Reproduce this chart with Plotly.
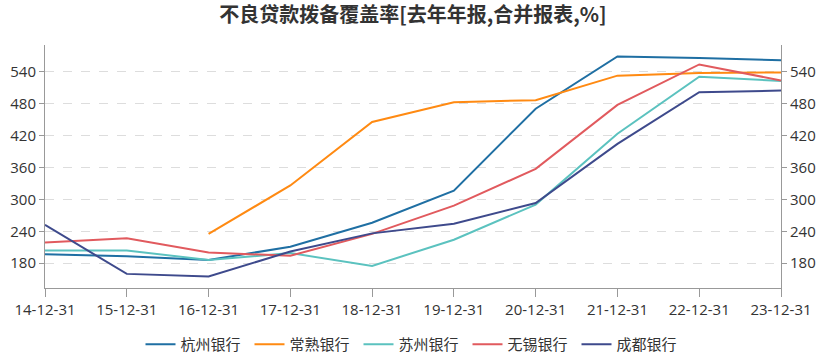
import plotly.graph_objects as go

categories = ["14-12-31", "15-12-31", "16-12-31", "17-12-31", "18-12-31",
              "19-12-31", "20-12-31", "21-12-31", "22-12-31", "23-12-31"]

hangzhou = [197, 193, 186, 211, 256, 316, 470, 568, 565, 561]
changshu = [None, None, 235, 326, 445, 482, 486, 532, 537, 538]
suzhou = [204, 204, 186, 199, 175, 224, 290, 423, 530, 522]
wuxi = [219, 227, 200, 194, 235, 288, 357, 477, 553, 523]
chengdu = [252, 160, 155, 202, 236, 254, 293, 404, 501, 504]

series_names = ["杭州银行", "常熟银行", "苏州银行", "无锡银行", "成都银行"]
series_values = [hangzhou, changshu, suzhou, wuxi, chengdu]
colors = ["#1f6fa3", "#ff8a12", "#5bc2bf", "#e15a5e", "#3e4a8c"]

y_ticks = [180, 240, 300, 360, 420, 480, 540]
y_range = [133.5, 589.5]

font_main = "Noto Sans CJK SC"
font_ticks = "Open Sans"

fig = go.Figure()
for name, vals, col in zip(series_names, series_values, colors):
    fig.add_trace(go.Scatter(
        x=categories, y=vals, name=name, mode="lines",
        line=dict(color=col, width=2),
        connectgaps=False,
    ))

# invisible trace to anchor the right axis
fig.add_trace(go.Scatter(x=categories, y=hangzhou, yaxis="y2", mode="lines",
                         line=dict(width=0), showlegend=False, hoverinfo="skip",
                         opacity=0))

axis_common = dict(
    range=y_range, tickmode="array", tickvals=y_ticks,
    ticks="outside", ticklen=5, tickcolor="#999999",
    showline=True, linecolor="#999999", linewidth=1,
    tickfont=dict(family=font_ticks, size=15, color="#333333"),
    zeroline=False,
)

fig.update_layout(
    width=830, height=357,
    margin=dict(l=45, r=49, t=45, b=69, autoexpand=False),
    paper_bgcolor="white", plot_bgcolor="white",
    title=dict(text="<b>不良贷款拨备覆盖率[去年年报,合并报表,%]</b>",
               x=0.5, xanchor="center", xref="paper",
               y=0.958, yanchor="middle", yref="container",
               font=dict(family=font_main, size=20, color="#333333")),
    xaxis=dict(
        type="category", range=[0, 9],
        showline=True, linecolor="#999999", linewidth=1,
        ticks="outside", ticklen=8, tickcolor="#999999",
        showgrid=False, zeroline=False,
        tickfont=dict(family=font_ticks, size=15, color="#333333"),
    ),
    yaxis=dict(**axis_common, showgrid=True, gridcolor="#dddddd",
               griddash="dash", gridwidth=1),
    yaxis2=dict(**axis_common, overlaying="y", side="right", showgrid=False,
                matches="y"),
    legend=dict(orientation="h", x=0.5, xanchor="center", y=-0.165,
                yanchor="top", font=dict(family=font_main, size=15, color="#333333"),
                itemwidth=30, entrywidth=64, entrywidthmode="pixels"),
    showlegend=True,
)

fig.write_html("out.html",
               config={"displayModeBar": False},
               post_script="document.body.style.margin='0';document.body.style.overflow='hidden';")
